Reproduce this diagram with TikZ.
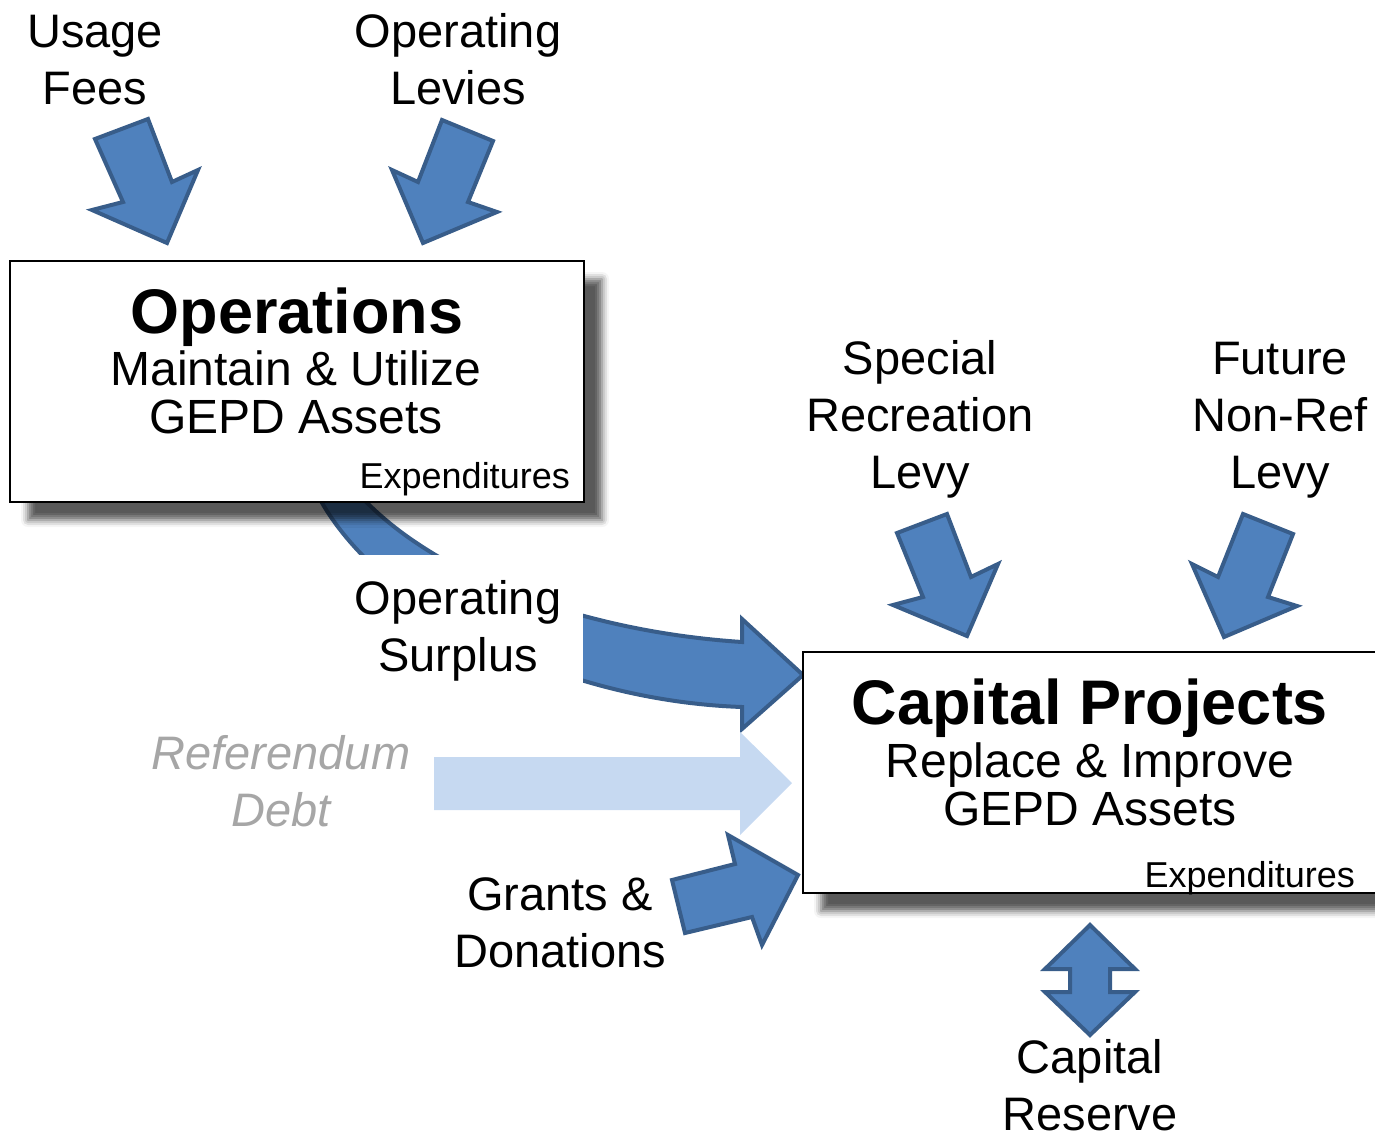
\documentclass[tikz,border=0pt]{standalone}
\usepackage{fontspec}
\setmainfont{Liberation Sans}
\usetikzlibrary{shadows.blur}
\definecolor{arrowblue}{HTML}{4F81BD}
\definecolor{arrowline}{HTML}{385D8A}
\definecolor{paleblue}{HTML}{C6D9F1}
\definecolor{debtgray}{HTML}{A6A6A6}
\tikzset{
    %Define style for block arrows
    blockarrow/.style={
           fill=arrowblue,
           draw=arrowline,
           line width=4pt},
    palearrow/.style={
           fill=paleblue},
    %Define style for fund boxes
    fundbox/.style={
           rectangle,
           draw=black, line width=1.5pt,
           fill=white,
           minimum height=241pt,
           blur shadow={shadow xshift=18pt, shadow yshift=-18pt,
                        shadow blur radius=7pt, shadow opacity=65}},
    boxtitle/.style={
           anchor=base, inner sep=0pt,
           font=\fontsize{63}{70}\selectfont\bfseries},
    boxsub/.style={
           anchor=base, inner sep=0pt, align=center,
           font=\fontsize{48}{47.5}\selectfont},
    expense/.style={
           anchor=base east, inner sep=0pt,
           font=\fontsize{36}{40}\selectfont},
    source/.style={
           anchor=base, inner sep=0pt, align=center,
           font=\fontsize{47}{57}\selectfont}
}
\begin{document}
\begin{tikzpicture}[x=1pt,y=-1pt]
\useasboundingbox (0,0) rectangle (1375,1135);
\clip (0,0) rectangle (1375,1135);
 %arrows into operations
\draw[blockarrow] (95,139) -- (148,119) -- (172,182) -- (198,170) -- (167,243) -- (92,210) -- (123,202) -- cycle;
\draw[blockarrow] (442,120) -- (493,141) -- (468,202) -- (497,212) -- (423,243) -- (392,170) -- (418,182) -- cycle;
 %surplus arrow
\draw[blockarrow] (305,465) .. controls (345,590) and (540,700) .. (742,707) -- (742,729) -- (803,675)
    -- (742,619) -- (742,642) .. controls (560,630) and (400,560) .. (340,470) -- cycle;
 %operations box
\node[fundbox, minimum width=574pt] (ops) at (297,381.5) {};
\node[boxtitle] (opstitle) at (297,333) {Operations};
\node[boxsub] (opssub) at (296,433) {Maintain \& Utilize\\GEPD Assets};
\node[expense] (opsexp) at (570,488) {Expenditures};
 %arrows into capital projects
\draw[blockarrow] (897,533) -- (947,514) -- (971,577) -- (998,564) -- (967,636) -- (893,605) -- (923,597) -- cycle;
\draw[blockarrow] (1243,514) -- (1293,534) -- (1268,597) -- (1297,606) -- (1224,637) -- (1192,564) -- (1218,577) -- cycle;
\fill[palearrow] (434,757) -- (740,757) -- (740,732) -- (792,783) -- (740,835) -- (740,810) -- (434,810) -- cycle;
\draw[blockarrow] (672,880) -- (735,864) -- (728,835) -- (798,875) -- (762,945) -- (752,917) -- (685,933) -- cycle;
\draw[blockarrow] (1090,925) -- (1135,969) -- (1110,969) -- (1110,992) -- (1135,992) -- (1090,1035)
    -- (1045,992) -- (1070,992) -- (1070,969) -- (1045,969) -- cycle;
 %capital projects box
\node[fundbox, minimum width=592pt] (cap) at (1099,772.5) {};
\node[boxtitle] (captitle) at (1090,724) {Capital Projects};
\node[boxsub] (capsub) at (1090,825) {Replace \& Improve\\GEPD Assets};
\node[expense] (capexp) at (1355,887) {Expenditures};
 %sources
\node[source] (usage) at (95,104) {Usage\\Fees};
\node[source] (oplevy) at (458,104) {Operating\\Levies};
\node[source] (special) at (920,488) {Special\\Recreation\\Levy};
\node[source] (future) at (1280,488) {Future\\Non-Ref\\Levy};
\node[source, fill=white, inner xsep=22pt, inner ysep=25pt] (surplus) at (458,671) {Operating\\Surplus};
\node[source, text=debtgray, font=\fontsize{47}{57}\selectfont\itshape] (referendum) at (281,826) {Referendum\\Debt};
\node[source] (grants) at (560,967) {Grants \&\\Donations};
\node[source] (reserve) at (1090,1130) {Capital\\Reserve};
\end{tikzpicture}
\end{document}
